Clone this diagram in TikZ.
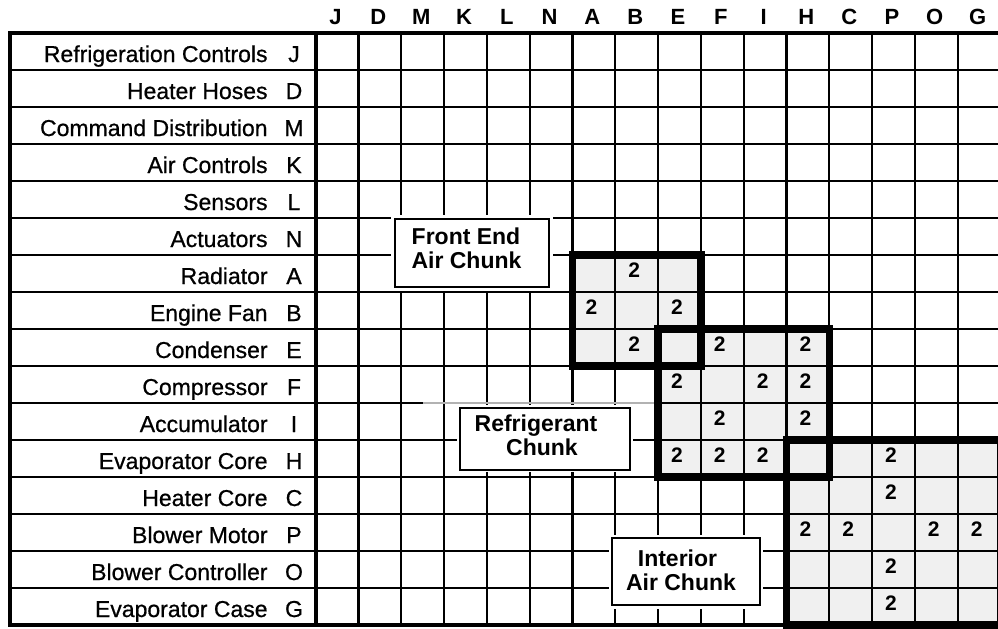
\documentclass[tikz,border=0pt]{standalone}
\usepackage{fontspec}
\setmainfont{Liberation Sans}
\newfontfamily\medfont{Liberation Sans}[FakeBold=0.7]
\begin{document}
\begin{tikzpicture}[x=0.5pt,y=-0.5pt,
  gridline/.style={line width=1.1pt, black},
  frameline/.style={line width=2pt, black},
  chunkline/.style={line width=3.75pt, black, line join=miter},
  chunkfill/.style={fill=black!6},
  boxline/.style={line width=0.8pt, draw=black, fill=white},
  boxmargin/.style={fill=white},
  rowname/.style={anchor=base east, inner sep=0pt, font=\medfont\fontsize{11.5}{13}\selectfont},
  rowletter/.style={anchor=base, inner sep=0pt, font=\medfont\fontsize{11.5}{13}\selectfont},
  colletter/.style={anchor=base, inner sep=0pt, font=\bfseries\fontsize{11}{13}\selectfont},
  entry/.style={anchor=base, inner sep=0pt, font=\bfseries\fontsize{10.5}{12}\selectfont},
  chunklabel/.style={anchor=base, inner sep=0pt, font=\bfseries\fontsize{11.5}{13}\selectfont}
]
\useasboundingbox (0,0) rectangle (998,628);
\clip (0,0) rectangle (998,628);
\def\xo{315.7}\def\cw{42.8}\def\yo{33}\def\rh{37}
% chunk shading
\fill[chunkfill] ({\xo+\cw*6},{\yo+\rh*6}) rectangle ({\xo+\cw*9},{\yo+\rh*9});
\fill[chunkfill] ({\xo+\cw*8},{\yo+\rh*8}) rectangle ({\xo+\cw*12},{\yo+\rh*12});
\fill[chunkfill] ({\xo+\cw*11},{\yo+\rh*11}) rectangle ({\xo+\cw*16},{\yo+\rh*16});
% grid
\foreach \i in {1,...,16}
  \draw[gridline] ({\xo+\cw*\i},\yo) -- ({\xo+\cw*\i},{\yo+\rh*16});
\foreach \j in {1,...,15}
  \draw[gridline] (9.5,{\yo+\rh*\j}) -- (998,{\yo+\rh*\j});
\draw[line width=1.1pt, black!30] (423,{\yo+\rh*10}) -- (655,{\yo+\rh*10});
% frame
\draw[frameline] (998,\yo) -- (9.5,\yo) -- (9.5,{\yo+\rh*16}) -- (998,{\yo+\rh*16});
\draw[frameline] (\xo,\yo) -- (\xo,{\yo+\rh*16});
% chunk boxes
\draw[chunkline] ({\xo+\cw*6},{\yo+\rh*6}) rectangle ({\xo+\cw*9},{\yo+\rh*9});
\draw[chunkline] ({\xo+\cw*8},{\yo+\rh*8}) rectangle ({\xo+\cw*12},{\yo+\rh*12});
\draw[chunkline] ({\xo+\cw*11},{\yo+\rh*11}) rectangle ({\xo+\cw*16},{\yo+\rh*16});
% label boxes
\fill[boxmargin] (391,215) rectangle (553,291);
\draw[boxline] (395,219) rectangle (549,287);
\node[chunklabel] (fe1) at (466,244.5) {Front End};
\node[chunklabel] (fe2) at (466.5,268) {Air Chunk};
\fill[boxmargin] (457,405) rectangle (633,472);
\draw[boxline] (460,408) rectangle (630,470);
\node[chunklabel] (rc1) at (536,431) {Refrigerant};
\node[chunklabel] (rc2) at (542,455) {Chunk};
\fill[boxmargin] (609,535) rectangle (763,609);
\draw[boxline] (612,538) rectangle (760,605);
\node[chunklabel] (ia1) at (677.5,566) {Interior};
\node[chunklabel] (ia2) at (681,590) {Air Chunk};
% column headers
\foreach \l [count=\c] in {J,D,M,K,L,N,A,B,E,F,I,H,C,P,O,G}
  \node[colletter] (col\c) at ({\xo+\cw*(\c-0.5)-1.5},24.5) {\l};
% row labels
\foreach \n/\l [count=\r] in {Refrigeration Controls/J,Heater Hoses/D,Command Distribution/M,Air Controls/K,Sensors/L,Actuators/N,Radiator/A,Engine Fan/B,Condenser/E,Compressor/F,Accumulator/I,Evaporator Core/H,Heater Core/C,Blower Motor/P,Blower Controller/O,Evaporator Case/G}{
  \node[rowname] (rn\r) at (268,{\yo+\rh*(\r-0.5)+10.5}) {\n};
  \node[rowletter] (rl\r) at (294,{\yo+\rh*(\r-0.5)+10.5}) {\l};
}
% entries
\foreach \r/\c in {7/8,8/7,8/9,9/8,9/10,9/12,10/9,10/11,10/12,11/10,11/12,12/9,12/10,12/11,12/14,13/14,14/12,14/13,14/15,14/16,15/14,16/14}
  \node[entry] (e\r-\c) at ({\xo+\cw*(\c-0.5)-2.5},{\yo+\rh*(\r-0.5)+3.5}) {2};
\end{tikzpicture}
\end{document}
